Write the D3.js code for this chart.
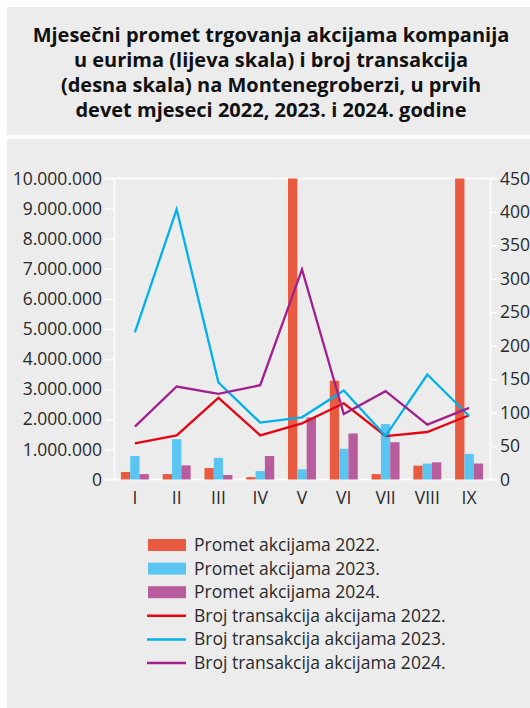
<!DOCTYPE html>
<html>
<head>
<meta charset="utf-8">
<script src="https://cdn.jsdelivr.net/npm/d3@7"></script>
<style>
  body { margin: 0; background: #fff; }
  text { font-family: "Open Sans", sans-serif; }
</style>
</head>
<body>
<svg id="chart"></svg>
<script>
// months
var months = ["I", "II", "III", "IV", "V", "VI", "VII", "VIII", "IX"];

// promet akcijama (EUR) - left scale; V and IX 2022 run past the top
var promet2022 = [250000, 180000, 380000, 80000, 10000000, 3280000, 180000, 460000, 10000000];
var promet2023 = [780000, 1340000, 720000, 280000, 340000, 1020000, 1840000, 530000, 850000];
var promet2024 = [180000, 470000, 150000, 780000, 2060000, 1530000, 1240000, 570000, 530000];

// broj transakcija - right scale
var broj2022 = [54, 66, 122, 66, 84, 114, 65, 71, 96];
var broj2023 = [220, 404, 145, 85, 93, 133, 65, 157, 95];
var broj2024 = [79, 139, 128, 141, 314, 98, 132, 82, 107];

var leftTicks = [0, 1e6, 2e6, 3e6, 4e6, 5e6, 6e6, 7e6, 8e6, 9e6, 1e7];
var rightTicks = [0, 50, 100, 150, 200, 250, 300, 350, 400, 450];

var titleLines = [
  "Mjesečni promet trgovanja akcijama kompanija",
  "u eurima (lijeva skala) i broj transakcija",
  "(desna skala) na Montenegroberzi, u prvih",
  "devet mjeseci 2022, 2023. i 2024. godine"
];

var barSeries = [
  {name: "Promet akcijama 2022.", values: promet2022, color: "#e95b40"},
  {name: "Promet akcijama 2023.", values: promet2023, color: "#5bc5f1"},
  {name: "Promet akcijama 2024.", values: promet2024, color: "#b95c9e"}
];
var lineSeries = [
  {name: "Broj transakcija akcijama 2022.", values: broj2022, color: "#e30613"},
  {name: "Broj transakcija akcijama 2023.", values: broj2023, color: "#00b0ea"},
  {name: "Broj transakcija akcijama 2024.", values: broj2024, color: "#a1208c"}
];

var W = 530, H = 708;
var svg = d3.select("#chart").attr("width", W).attr("height", H);

// grey panels
svg.append("rect").attr("x", 7).attr("y", 7).attr("width", W - 7).attr("height", 128).attr("fill", "#ececec");
svg.append("rect").attr("x", 7).attr("y", 139).attr("width", W - 7).attr("height", H - 139).attr("fill", "#ececec");

// title
svg.append("g").selectAll("text").data(titleLines).enter().append("text")
  .attr("x", 271)
  .attr("y", function(d, i) { return 42 + i * 25; })
  .attr("text-anchor", "middle")
  .attr("font-size", 20)
  .attr("font-weight", 700)
  .attr("fill", "#111")
  .text(function(d) { return d; });

var margin = {top: 178.5, left: 114, right: 490, bottom: 479.5};

var x0 = d3.scaleBand().domain(months).range([margin.left, margin.right]).paddingInner(0.33).paddingOuter(0.165);
var x1 = d3.scaleBand().domain([0, 1, 2]).range([0, x0.bandwidth()]);
var y0 = d3.scaleLinear().domain([0, 1e7]).range([margin.bottom, margin.top]).clamp(true);
var y1 = d3.scaleLinear().domain([0, 450]).range([margin.bottom, margin.top]);

var fmt = function(d) { return d3.format(",")(d).replace(/,/g, "."); };

// top gridline
svg.append("line")
  .attr("x1", margin.left - 9).attr("x2", margin.right + 7)
  .attr("y1", y0(1e7)).attr("y2", y0(1e7))
  .attr("stroke", "#fff").attr("stroke-width", 1.5);

// left axis
var gl = svg.append("g")
  .attr("transform", "translate(" + margin.left + ",0)")
  .call(d3.axisLeft(y0).tickValues(leftTicks).tickFormat(fmt).tickSize(9).tickSizeOuter(0).tickPadding(3));

// right axis
var gr = svg.append("g")
  .attr("transform", "translate(" + margin.right + ",0)")
  .call(d3.axisRight(y1).tickValues(rightTicks).tickSize(7).tickSizeOuter(0).tickPadding(3));

// bottom axis
var gb = svg.append("g")
  .attr("transform", "translate(0," + y0(0) + ")")
  .call(d3.axisBottom(x0).tickSize(0).tickSizeOuter(0).tickPadding(12));
gb.select(".domain").attr("d", "M" + (margin.left - 9) + ",0H" + (margin.right + 7));

[gl, gr, gb].forEach(function(g) {
  g.select(".domain").attr("stroke", "#fff").attr("stroke-width", 1.5);
  g.selectAll(".tick line").attr("stroke", "#fff").attr("stroke-width", 1.5);
  g.selectAll(".tick text").attr("font-size", 17.5).attr("fill", "#2a2a2a")
    .attr("font-family", "'Open Sans', sans-serif").attr("font-weight", 400);
});

// bars
var bars = svg.append("g");
barSeries.forEach(function(s, si) {
  bars.append("g").selectAll("rect").data(s.values).enter().append("rect")
    .attr("x", function(d, i) { return x0(months[i]) + x1(si); })
    .attr("y", function(d) { return y0(d); })
    .attr("width", x1.bandwidth())
    .attr("height", function(d) { return y0(0) - y0(d); })
    .attr("fill", s.color);
});

// lines
var line = d3.line()
  .x(function(d, i) { return x0(months[i]) + x0.bandwidth() / 2; })
  .y(function(d) { return y1(d); });

lineSeries.forEach(function(s) {
  svg.append("path")
    .datum(s.values)
    .attr("d", line)
    .attr("fill", "none")
    .attr("stroke", s.color)
    .attr("stroke-width", 2.3)
    .attr("stroke-linejoin", "miter");
});

// legend
var legend = svg.append("g");
var items = barSeries.concat(lineSeries);
items.forEach(function(s, i) {
  var cy = 545 + i * 23.6;
  if (i < 3) {
    legend.append("rect").attr("x", 148).attr("y", cy - 6).attr("width", 38).attr("height", 12).attr("fill", s.color);
  } else {
    legend.append("line").attr("x1", 147).attr("x2", 186).attr("y1", cy).attr("y2", cy)
      .attr("stroke", s.color).attr("stroke-width", 2.5);
  }
  legend.append("text")
    .attr("x", 194).attr("y", cy + 6)
    .attr("font-size", 17.5).attr("font-weight", 400).attr("fill", "#2a2a2a")
    .text(s.name);
});
</script>
</body>
</html>
